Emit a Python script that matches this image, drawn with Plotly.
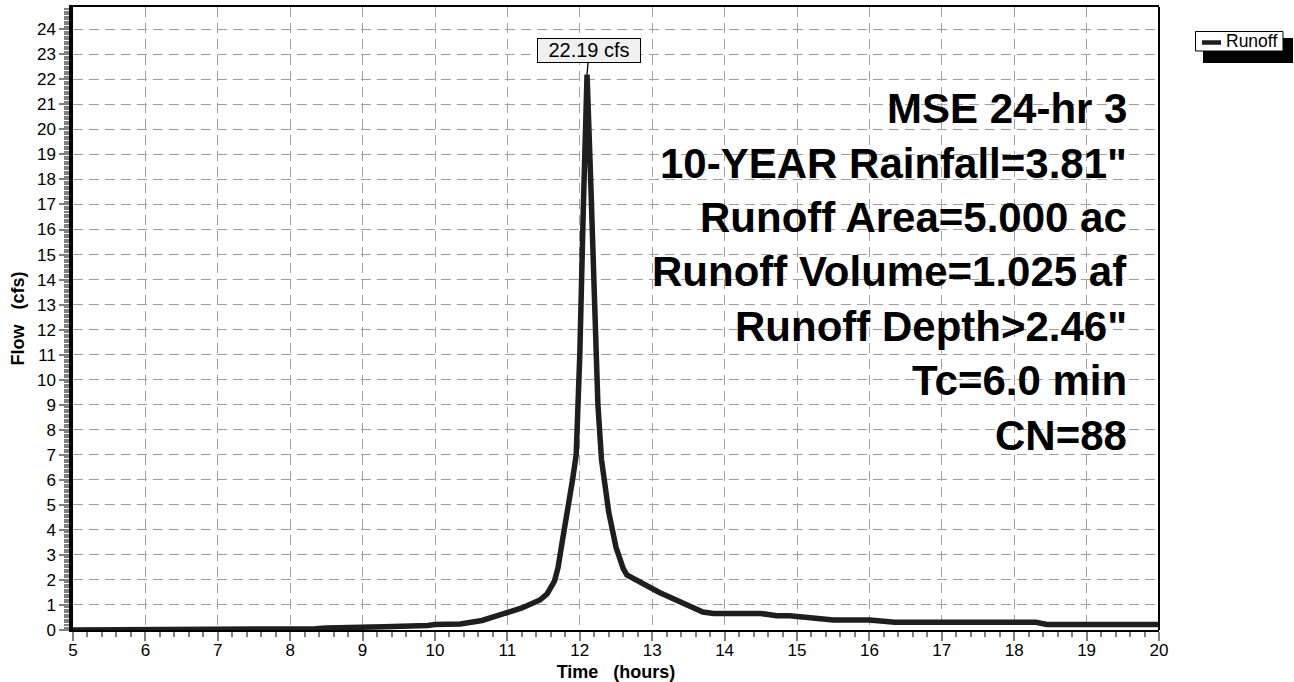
import plotly.graph_objects as go

# ---------------- data ----------------
time_hr = [5.0, 8.0, 8.35, 8.5, 9.0, 9.3, 9.9, 10.0, 10.35, 10.65, 10.95, 11.2,
           11.45, 11.55, 11.65, 11.7, 11.75, 11.8, 11.85, 11.9, 11.95, 12.0, 12.05,
           12.1, 12.15, 12.2, 12.25, 12.3, 12.4, 12.5, 12.6, 12.65, 12.8, 13.0,
           13.1, 13.7, 13.85, 14.5, 14.72, 14.9, 15.28, 15.5, 16.0, 16.35, 18.3,
           18.45, 20.0]
flow_cfs = [0.0, 0.0, 0.05, 0.08, 0.08, 0.13, 0.18, 0.22, 0.24, 0.38, 0.65, 0.88,
            1.2, 1.45, 1.95, 2.5, 3.4, 4.2, 5.0, 6.0, 7.0, 11.0, 17.0,
            22.19, 18.0, 13.2, 9.0, 6.8, 4.7, 3.3, 2.45, 2.2, 1.95, 1.65,
            1.5, 0.72, 0.66, 0.66, 0.57, 0.57, 0.43, 0.4, 0.4, 0.31, 0.31,
            0.22, 0.22]
series_name = "Runoff"
peak_time = 12.1
peak_flow = 22.19
peak_label = "22.19 cfs"
info_lines = ["MSE 24-hr 3", "10-YEAR Rainfall=3.81\"", "Runoff Area=5.000 ac",
              "Runoff Volume=1.025 af", "Runoff Depth>2.46\"", "Tc=6.0 min", "CN=88"]
x_ticks = list(range(5, 21))
y_ticks = list(range(0, 25))
x_title = "Time\u00a0\u00a0 (hours)"
y_title = "Flow\u00a0\u00a0 (cfs)"

# ---------------- layout geometry ----------------
W, H = 1294, 682
PL, PR, PT, PB = 73, 1159, 7, 630          # plot area in pixels
FONT = "Liberation Sans, Arial, Helvetica, sans-serif"
GRID = "#a0a0a0"
TICK = "#808080"
LINE = "#1e1e1e"


def px_x(p):
    return (p - PL) / (PR - PL)


def px_y(p):
    return (PB - p) / (PB - PT)


fig = go.Figure()
fig.add_trace(go.Scatter(x=time_hr, y=flow_cfs, mode="lines", name=series_name,
                         line=dict(color=LINE, width=5.5), showlegend=False,
                         hoverinfo="skip"))

fig.update_layout(
    width=W, height=H, autosize=False,
    margin=dict(l=PL, r=W - PR, t=PT, b=H - PB, pad=0, autoexpand=False),
    paper_bgcolor="white", plot_bgcolor="white",
    font=dict(family=FONT, color="black", size=17),
    showlegend=False,
)

fig.update_xaxes(
    automargin=False,
    range=[5, 20], tickvals=x_ticks, ticks="outside", ticklen=9, tickwidth=2,
    tickcolor=TICK, tickfont=dict(size=17), ticklabelstandoff=-5,
    showgrid=True, gridcolor=GRID,
    gridwidth=1.2, griddash="10px,6px", zeroline=False, showline=True,
    linecolor="black", linewidth=2, mirror=True,
    minor=dict(dtick=0.2, ticks="outside", ticklen=5, tickwidth=1.5,
               tickcolor=TICK, showgrid=False),
    title=dict(text=x_title, font=dict(size=18, weight=700), standoff=8),
)
fig.update_yaxes(
    automargin=False,
    range=[0, 24.89], tickvals=y_ticks, ticks="outside", ticklen=10, tickwidth=2,
    tickcolor=TICK, tickfont=dict(size=17), showgrid=True, gridcolor=GRID,
    gridwidth=1.2, griddash="10px,6px", zeroline=False, showline=True,
    linecolor="black", linewidth=3.5, mirror=False,
    minor=dict(dtick=0.1, ticks="outside", ticklen=5, tickwidth=1.5,
               tickcolor=TICK, showgrid=False),
    title=dict(text=y_title, font=dict(size=18, weight=700), standoff=9),
)

# right border of the plot frame
fig.add_shape(type="line", xref="paper", yref="paper", x0=1, x1=1, y0=0, y1=1,
              line=dict(color="black", width=2), layer="above")

# legend (drawn by hand to match the compact boxed legend with drop shadow)
fig.add_shape(type="rect", xref="paper", yref="paper",
              x0=px_x(1203), x1=px_x(1293), y0=px_y(63), y1=px_y(38),
              fillcolor="black", line=dict(width=0), layer="above")
fig.add_shape(type="rect", xref="paper", yref="paper",
              x0=px_x(1195.5), x1=px_x(1283), y0=px_y(51), y1=px_y(31.5),
              fillcolor="white", line=dict(color="black", width=1), layer="above")
fig.add_shape(type="line", xref="paper", yref="paper",
              x0=px_x(1202), x1=px_x(1221), y0=px_y(42.5), y1=px_y(42.5),
              line=dict(color=LINE, width=4.5), layer="above")
fig.add_annotation(x=px_x(1224), y=px_y(41.5), xref="paper", yref="paper",
                   xanchor="left", yanchor="middle", text=series_name,
                   showarrow=False, font=dict(size=17.5, family=FONT, color="black"))

# peak callout
fig.add_annotation(x=peak_time, y=peak_flow, xref="x", yref="y", text=peak_label,
                   showarrow=True, arrowhead=0, arrowwidth=1.3, arrowcolor="black",
                   ax=2, ay=-24, bgcolor="#f0f0f0", bordercolor="black",
                   borderwidth=1, borderpad=0, width=102, height=22.5,
                   font=dict(size=20, family=FONT, color="black"))

# information block
cap_centers = [108.7 + 54.4 * i for i in range(len(info_lines))]
for line, cy in zip(info_lines, cap_centers):
    fig.add_annotation(x=px_x(1129), y=px_y(cy), xref="paper", yref="paper",
                       xanchor="right", yanchor="middle", text=line, showarrow=False,
                       font=dict(size=42, family=FONT, color="black", weight=700))

fig.write_html("out.html", config={"displayModeBar": False},
               post_script="document.body.style.margin='0px';"
                           "document.body.style.overflow='hidden';")
